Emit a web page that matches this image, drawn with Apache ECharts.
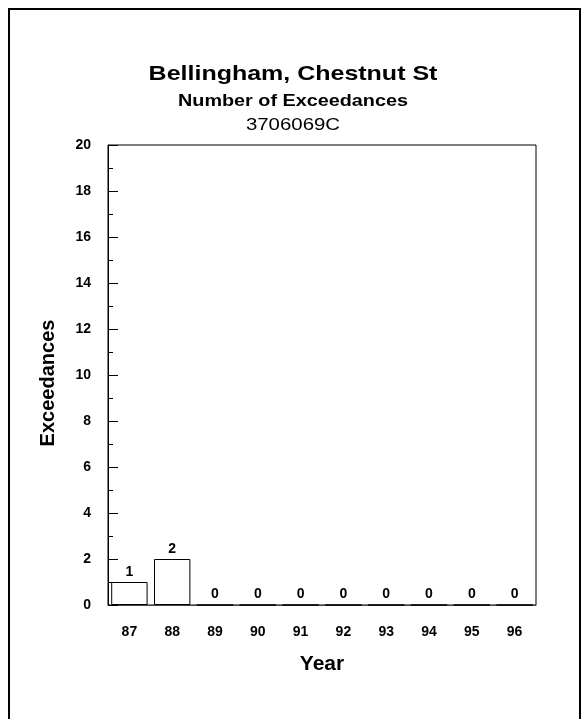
<!DOCTYPE html>
<html>
<head>
<meta charset="utf-8">
<script src="https://cdn.jsdelivr.net/npm/echarts@6/dist/echarts.min.js"></script>
<style>
  html, body { margin: 0; padding: 0; background: #fff; }
  #main { width: 587px; height: 719px; }
</style>
</head>
<body>
<div id="main"></div>
<script>
// data
var years = ['87', '88', '89', '90', '91', '92', '93', '94', '95', '96'];
var exceedances = [1, 2, 0, 0, 0, 0, 0, 0, 0, 0];
var yTicks = [0, 2, 4, 6, 8, 10, 12, 14, 16, 18, 20];

var chart = echarts.init(document.getElementById('main'));
var font = 'Liberation Sans, Arial, sans-serif';

// title lines are a bit wider than normal Arial in the original
function titleLine(text, y, size, weight, sx) {
    return {
        type: 'text', x: 293, y: y, scaleX: sx, silent: true,
        style: { text: text, fill: '#000', font: weight + ' ' + size + 'px ' + font,
                 textAlign: 'center', textVerticalAlign: 'middle' }
    };
}

chart.setOption({
    animation: false,
    backgroundColor: '#fff',
    textStyle: { fontFamily: font },
    graphic: [
        { type: 'rect', shape: { x: 9, y: 9, width: 571, height: 730 },
          style: { fill: 'none', stroke: '#000', lineWidth: 2 }, silent: true },
        titleLine('Bellingham, Chestnut St', 74, 21, 'bold', 1.19),
        titleLine('Number of Exceedances', 101, 16.5, 'bold', 1.2),
        titleLine('3706069C', 125, 17, 'normal', 1.2)
    ],
    grid: { left: 108, right: 51, top: 145, bottom: 114, show: true,
            borderColor: '#000', borderWidth: 1, backgroundColor: 'transparent' },
    xAxis: {
        type: 'category', data: years,
        name: 'Year', nameLocation: 'middle', nameGap: 49,
        nameTextStyle: { fontSize: 21, fontWeight: 'bold', color: '#000' },
        axisLine: { lineStyle: { color: '#444' } },
        axisTick: { show: false },
        axisLabel: { fontSize: 14, fontWeight: 'bold', color: '#000', margin: 20 }
    },
    yAxis: {
        type: 'value', min: 0, max: 20, interval: 2,
        name: 'Exceedances', nameLocation: 'middle', nameGap: 50,
        nameTextStyle: { fontSize: 20, fontWeight: 'bold', color: '#000',
                         padding: [0, 16, 0, 0] },
        axisLine: { show: true, lineStyle: { color: '#000' } },
        axisTick: { show: true, inside: true, length: 10, lineStyle: { color: '#000' } },
        minorTick: { show: true, splitNumber: 2, length: 5, lineStyle: { color: '#000' } },
        splitLine: { show: false },
        axisLabel: { fontSize: 14, fontWeight: 'bold', color: '#000', margin: 17,
                     customValues: yTicks }
    },
    series: [{
        type: 'bar', data: exceedances, barWidth: '85%',
        itemStyle: { color: '#fff', borderColor: '#000', borderWidth: 1 },
        label: { show: true, position: 'top', distance: 3, fontSize: 14,
                 fontWeight: 'bold', color: '#000' }
    }]
});
</script>
</body>
</html>
